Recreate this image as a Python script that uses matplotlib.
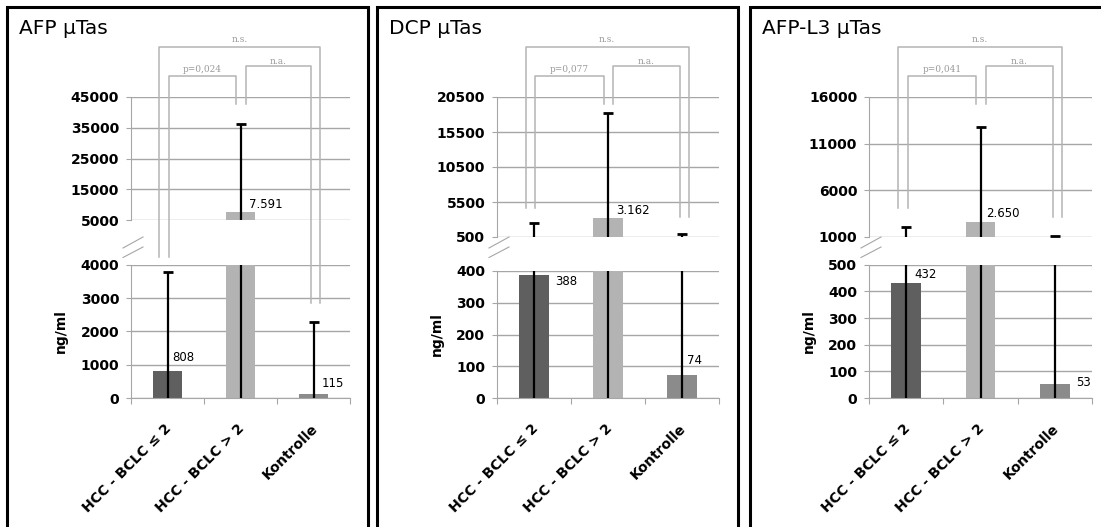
import numpy as np
import matplotlib.pyplot as plt
from matplotlib import transforms
from matplotlib.patches import Rectangle
from matplotlib.lines import Line2D

groups = ['HCC - BCLC ≤ 2', 'HCC - BCLC > 2', 'Kontrolle']
titles = ['AFP µTas', 'DCP µTas', 'AFP-L3 µTas']
p_texts = ['p=0,024', 'p=0,077', 'p=0,041']

# means and (upper) standard deviations, ng/ml
afp_mean = [808, 7591, 115]
afp_sd = [2980, 28600, 2180]
dcp_mean = [388, 3162, 74]
dcp_sd = [2060, 15000, 820]
l3_mean = [432, 2650, 53]
l3_sd = [1640, 10130, 1020]

# tick values for the lower and upper part of every broken axis
afp_low = [0, 1000, 2000, 3000, 4000]
afp_high = [5000, 15000, 25000, 35000, 45000]
dcp_low = [0, 100, 200, 300, 400]
dcp_high = [500, 5500, 10500, 15500, 20500]
l3_low = [0, 100, 200, 300, 400, 500]
l3_high = [1000, 6000, 11000, 16000]

W, H = 1101, 527
fig = plt.figure(figsize=(W / 100, H / 100), dpi=100)

grid = '#a6a6a6'
bracket_col = '#b4b4b4'
colors = ['#5f5f5f', '#b3b3b3', '#8b8b8b']


def rect(x0, x1, y0, y1):
    # pixel box (top-left origin) -> figure fraction
    return [x0 / W, 1 - y1 / H, (x1 - x0) / W, (y1 - y0) / H]


def fy(y):
    return 1 - y / H


def fmt(v):
    return f'{v:,}'.replace(',', '.')


panels = [
    (afp_mean, afp_sd, afp_low, afp_high),
    (dcp_mean, dcp_sd, dcp_low, dcp_high),
    (l3_mean, l3_sd, l3_low, l3_high),
]

frame_x = [(7, 368), (377, 738), (750, 1115)]
axes_x = [(131, 350), (497, 719), (869, 1092)]
upper_y = [(97, 220), (97, 237), (97, 237)]
lower_y = [(264.7, 398), (271, 398), (264.7, 398)]
leg_bottom = [(257, 104, 303), (208, 104, 217), (208, 104, 217)]
label_off = [[(5, 14), (9, 8), (8, 11)],
             [(21, -7), (8, 8), (5, 14)],
             [(8, 8), (6, 8), (21, 1)]]

x = np.arange(3)

for k, (mean, sd, low, high) in enumerate(panels):
    mean = np.array(mean)
    top = mean + np.array(sd)
    xa, xb = axes_x[k]
    ax_hi = fig.add_axes(rect(xa, xb, *upper_y[k]))
    ax_lo = fig.add_axes(rect(xa, xb, *lower_y[k]))

    for ax, ticks in ((ax_hi, high), (ax_lo, low)):
        ax.set_xlim(-0.5, 2.5)
        ax.set_ylim(ticks[0], ticks[-1])
        ax.set_yticks(ticks)
        ax.yaxis.grid(True, color=grid, lw=1)
        ax.set_axisbelow(True)
        ax.bar(x, mean, width=0.4, color=colors, zorder=2)
        ax.vlines(x, 0, top, color='black', lw=1.6, zorder=3)
        ax.plot(x, top, ls='none', marker='_', ms=6.5, mew=2,
                color='black', zorder=3)
        for s in ('top', 'right'):
            ax.spines[s].set_visible(False)
        ax.spines['left'].set_color(grid)
        ax.spines['bottom'].set_color(grid)
        ax.tick_params(axis='y', length=3.5, color=grid, pad=5,
                       labelsize=10)
        for t in ax.get_yticklabels():
            t.set_fontweight('bold')

    ax_hi.spines['bottom'].set_visible(False)
    ax_hi.set_xticks([])
    ax_lo.set_xticks([-0.5, 0.5, 1.5, 2.5])
    ax_lo.set_xticklabels([])
    ax_lo.tick_params(axis='x', length=4, color=grid)
    ax_lo.set_ylabel('ng/ml', fontsize=10, fontweight='bold', labelpad=9)

    # value labels
    for i, v in enumerate(mean):
        ax = ax_lo if v <= low[-1] else ax_hi
        ax.annotate(fmt(int(v)), xy=(i, v), xytext=label_off[k][i],
                    textcoords='offset pixels', ha='left', va='center',
                    fontsize=8.5, zorder=4)

    # category labels
    for i, g in enumerate(groups):
        ax_lo.annotate(g, xy=(i, 0), xycoords=('data', 'axes fraction'),
                       xytext=(-3, -23), textcoords='offset pixels',
                       rotation=45, rotation_mode='anchor', ha='right',
                       va='top', fontsize=10, fontweight='bold')

    # significance brackets
    tr = transforms.blended_transform_factory(ax_hi.transData, fig.transFigure)
    b_left, b_mid, b_right = leg_bottom[k]
    brackets = [
        (0 - 0.11, 2 + 0.09, 47, b_left, b_right, 'n.s.', 40),
        (0 + 0.02, 1 - 0.06, 76, b_left, b_mid, p_texts[k], 70),
        (1 + 0.07, 2 - 0.03, 66, b_mid, b_right, 'n.a.', 61),
    ]
    for x1, x2, yt, y1, y2, txt, ty in brackets:
        fig.add_artist(Line2D([x1, x1, x2, x2], [fy(y1), fy(yt), fy(yt), fy(y2)],
                              transform=tr, color=bracket_col, lw=1.1))
        fig.text((x1 + x2) / 2, fy(ty), txt, transform=tr, ha='center',
                 va='center', family='DejaVu Serif', fontsize=6.5,
                 color='#9a9a9a')

    # axis break marks
    for ya, yb in ((248, 237), (257.5, 247)):
        fig.add_artist(Line2D([(xa - 8) / W, (xa + 12) / W], [fy(ya), fy(yb)],
                              color=grid, lw=0.8))

    # panel frame and title
    fa, fb = frame_x[k]
    fig.add_artist(Rectangle((fa / W, -0.1), (fb - fa) / W, fy(7) + 0.1,
                             transform=fig.transFigure, fill=False,
                             edgecolor='black', lw=2.2))
    fig.text((fa + 12) / W, fy(28), titles[k], fontsize=14.5, va='center')

fig.savefig('out.png', dpi=100)
